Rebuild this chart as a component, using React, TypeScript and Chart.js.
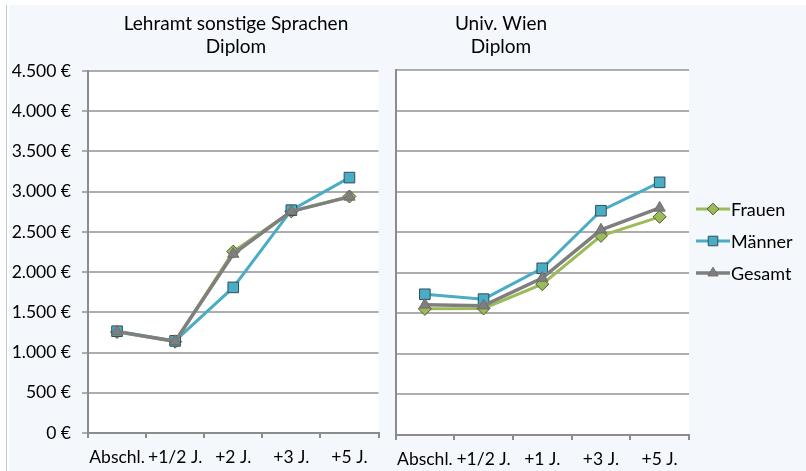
import React, { useEffect, useRef } from 'react';
import { Chart, registerables } from 'chart.js';

Chart.register(...registerables);

// ---- data ----
const seriesNames = ['Frauen', 'Männer', 'Gesamt'];
const leftTitle = ['Lehramt sonstige Sprachen', 'Diplom'];
const rightTitle = ['Univ. Wien', 'Diplom'];
const leftCategories = ['Abschl.', '+1/2 J.', '+2 J.', '+3 J.', '+5 J.'];
const rightCategories = ['Abschl.', '+1/2 J.', '+1 J.', '+3 J.', '+5 J.'];
const leftFrauen = [1255, 1135, 2255, 2755, 2940];
const leftMaenner = [1265, 1145, 1810, 2770, 3175];
const leftGesamt = [1260, 1140, 2225, 2755, 2935];
const rightFrauen = [1555, 1560, 1860, 2455, 2690];
const rightMaenner = [1735, 1675, 2055, 2765, 3115];
const rightGesamt = [1605, 1595, 1935, 2530, 2800];
const yMin = 0;
const yMax = 4500;
const yStep = 500;

// ---- styles ----
const FONT = 'Lato, "Open Sans", sans-serif';
const colors = ['#9BBB59', '#4BACC6', '#7F7F7F'];
const markerBorders = ['#4A5A2A', '#2F4F58', '#6E6E6E'];
const pointStyles = ['rectRot', 'rect', 'triangle'];
const pointRadii = [6.5, 7.5, 6.5];
const lineWidths = [3, 3, 3.5];
const drawOrder = [2, 1, 0];
const GRID = '#ADADAD';
const AXIS = '#8C8C8C';

const fmtEuro = (v: number) =>
  String(v).replace(/\B(?=(\d{3})+(?!\d))/g, '.') + ' €';

const bgPlugin = {
  id: 'plotBg',
  beforeDraw(chart: any) {
    const { ctx, chartArea } = chart;
    ctx.save();
    ctx.fillStyle = '#FFFFFF';
    ctx.fillRect(chartArea.left, chartArea.top, chartArea.right - chartArea.left, chartArea.bottom - chartArea.top);
    ctx.restore();
  },
};

const titlePlugin = {
  id: 'panelTitle',
  afterDraw(chart: any, _args: any, opts: any) {
    const { ctx } = chart;
    ctx.save();
    ctx.fillStyle = '#000';
    ctx.font = `19px ${FONT}`;
    ctx.textAlign = 'center';
    ctx.textBaseline = 'middle';
    (opts.lines || []).forEach((line: string, i: number) => {
      ctx.fillText(line, opts.x, opts.y + i * 23);
    });
    ctx.restore();
  },
};

function drawMarker(ctx: CanvasRenderingContext2D, style: string, x: number, y: number, r: number) {
  ctx.beginPath();
  if (style === 'rectRot') {
    ctx.moveTo(x, y - r);
    ctx.lineTo(x + r, y);
    ctx.lineTo(x, y + r);
    ctx.lineTo(x - r, y);
    ctx.closePath();
  } else if (style === 'rect') {
    const s = r * Math.SQRT1_2;
    ctx.rect(x - s, y - s, 2 * s, 2 * s);
  } else {
    const h = r * 1.5;
    const w = r * Math.sqrt(3);
    ctx.moveTo(x, y - r);
    ctx.lineTo(x + w / 2, y - r + h);
    ctx.lineTo(x - w / 2, y - r + h);
    ctx.closePath();
  }
  ctx.fill();
  ctx.stroke();
}

const legendPlugin = {
  id: 'lineLegend',
  afterDraw(chart: any, _args: any, opts: any) {
    if (!opts || !opts.show) return;
    const { ctx } = chart;
    ctx.save();
    ctx.font = `18px ${FONT}`;
    ctx.textBaseline = 'middle';
    ctx.textAlign = 'left';
    chart.data.datasets.forEach((ds: any, i: number) => {
      const y = opts.y + i * opts.gap;
      ctx.strokeStyle = ds.borderColor;
      ctx.lineWidth = ds.borderWidth;
      ctx.beginPath();
      ctx.moveTo(opts.x, y);
      ctx.lineTo(opts.x + 34, y);
      ctx.stroke();
      ctx.fillStyle = ds.pointBackgroundColor;
      ctx.strokeStyle = ds.pointBorderColor;
      ctx.lineWidth = 1;
      drawMarker(ctx, ds.pointStyle, opts.x + 17, y, ds.pointRadius * 0.9);
      ctx.fillStyle = '#000';
      ctx.fillText(ds.label, opts.x + 35, y + 1);
    });
    ctx.restore();
  },
};

function makeDatasets(series: number[][]) {
  return series.map((d, i) => ({
    label: seriesNames[i],
    data: d,
    borderColor: colors[i],
    backgroundColor: colors[i],
    borderWidth: lineWidths[i],
    pointStyle: pointStyles[i],
    pointRadius: pointRadii[i],
    pointBackgroundColor: colors[i],
    pointBorderColor: markerBorders[i],
    pointBorderWidth: 1,
    tension: 0,
    order: drawOrder[i],
  }));
}

function makeConfig(p: {
  categories: string[];
  series: number[][];
  showY: boolean;
  padding: any;
  yWidth: number;
  xHeight: number;
  title: string[];
  titleX: number;
  legend: any;
}) {
  return {
    type: 'line',
    data: { labels: p.categories, datasets: makeDatasets(p.series) },
    options: {
      responsive: false,
      animation: false,
      devicePixelRatio: 1,
      layout: { padding: p.padding },
      plugins: {
        legend: { display: false },
        tooltip: { enabled: false },
        title: { display: false },
        panelTitle: { lines: p.title, x: p.titleX, y: 19 },
        lineLegend: p.legend,
      },
      scales: {
        x: {
          type: 'category',
          offset: true,
          afterFit: (s: any) => { s.height = p.xHeight; },
          grid: {
            display: true,
            offset: true,
            drawOnChartArea: false,
            drawTicks: true,
            tickLength: 5,
            color: AXIS,
            lineWidth: 2,
          },
          border: { display: true, color: AXIS, width: 2 },
          ticks: {
            color: '#000',
            font: { family: FONT, size: 17.5 },
            padding: 9,
            maxRotation: 0,
            autoSkip: false,
          },
        },
        y: {
          min: yMin,
          max: yMax,
          afterFit: (s: any) => { s.width = p.yWidth; },
          grid: {
            color: GRID,
            lineWidth: 2,
            drawTicks: p.showY,
            tickLength: 6,
          },
          border: { display: true, color: AXIS, width: 2 },
          ticks: {
            display: p.showY,
            stepSize: yStep,
            color: '#000',
            font: { family: FONT, size: 17.5 },
            padding: 11,
            callback: (v: any) => fmtEuro(Number(v)),
          },
        },
      },
    },
    plugins: [bgPlugin, titlePlugin, legendPlugin],
  } as any;
}

function Panel(props: { style: React.CSSProperties; width: number; height: number; config: () => any }) {
  const ref = useRef<HTMLCanvasElement>(null);
  useEffect(() => {
    if (!ref.current) return;
    const chart = new Chart(ref.current, props.config());
    return () => chart.destroy();
  }, []);
  return <canvas ref={ref} width={props.width} height={props.height} style={{ position: 'absolute', ...props.style }} />;
}

export default function App() {
  useEffect(() => {
    document.body.style.margin = '0';
  }, []);
  return (
    <div style={{ position: 'relative', width: 806, height: 471, background: '#fff', overflow: 'hidden' }}>
      <div style={{ position: 'absolute', left: 6, top: 5, width: 1, bottom: 0, background: '#C8C8C8' }} />
      <div style={{ position: 'absolute', left: 9, top: 5, right: 0, bottom: 0, background: '#F4F7FC' }} />
      <Panel
        style={{ left: 9, top: 5, width: 378, height: 466 }}
        width={378}
        height={466}
        config={() =>
          makeConfig({
            categories: leftCategories,
            series: [leftFrauen, leftMaenner, leftGesamt],
            showY: true,
            padding: { top: 66, left: 0, right: 5, bottom: 0 },
            yWidth: 79,
            xHeight: 38,
            title: leftTitle,
            titleX: 227,
            legend: { show: false },
          })
        }
      />
      <Panel
        style={{ left: 387, top: 5, width: 419, height: 466 }}
        width={419}
        height={466}
        config={() =>
          makeConfig({
            categories: rightCategories,
            series: [rightFrauen, rightMaenner, rightGesamt],
            showY: false,
            padding: { top: 65, left: 4, right: 117, bottom: 0 },
            yWidth: 0,
            xHeight: 36,
            title: rightTitle,
            titleX: 114,
            legend: { show: true, x: 309, y: 204, gap: 32 },
          })
        }
      />
    </div>
  );
}
